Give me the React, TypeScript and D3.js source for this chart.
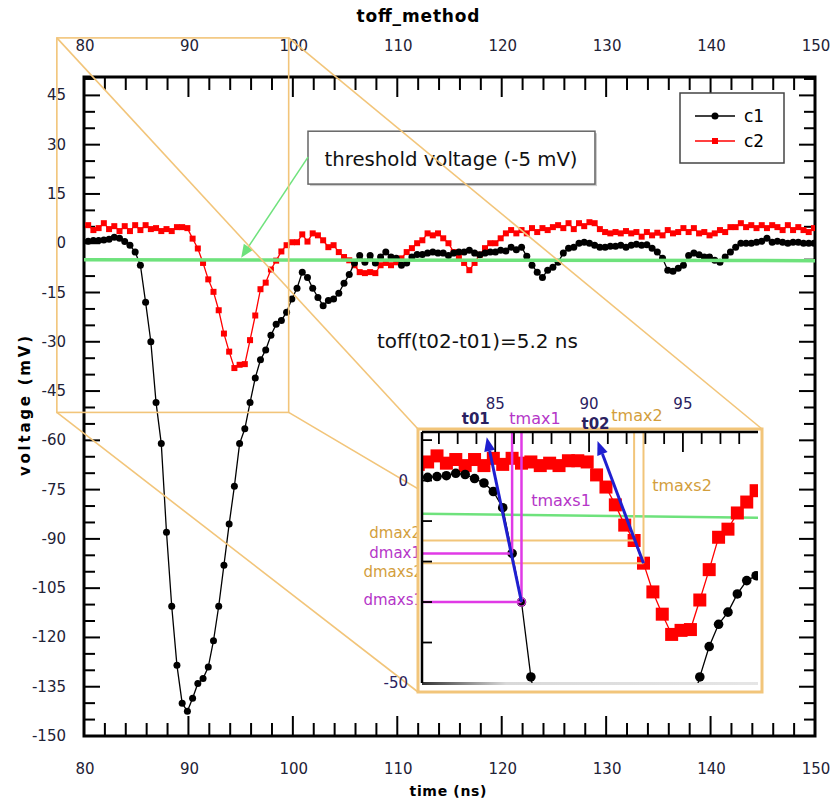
import React, { useEffect, useRef } from "react";
import * as d3 from "d3";

// sampling of both channels (ns)
const startTime = 80.4;
const step = 0.5;

// channel 1 (black), mV
const c1Values = [
  0.6, 0.8, 0.8, 1.0, 1.2, 1.8, 1.5, 0.5, -0.6, -2.7,
  -6.7, -18, -30, -48.5, -61, -88, -110.5, -128.5, -140, -142.5,
  -138.5, -134, -132.5, -129, -121, -110.5, -98, -85.5, -74, -61,
  -56.5, -48.5, -41, -35.5, -32.5, -28, -24.7, -23.5, -21, -17,
  -13.7, -8.8, -10.4, -13.7, -16.5, -19, -17.4, -17, -15.2, -12.2,
  -9.5, -6, -3.7, -5.8, -3.7, -6, -4.2, -2.7, -4.2, -4.6,
  -6.7, -6, -4.2, -3.4, -3.4, -3, -2.7, -3, -3, -3.7,
  -3, -2.7, -2.7, -2.1, -3, -3.5, -3, -2.7, -2.7, -2.1,
  -2.4, -1.2, -2, -1.2, -4, -6.7, -8.8, -10.4, -8.2, -7.3,
  -5.8, -3, -1.5, -1.2, 0, 0.3, 0, -0.6, -1.2, -1.2,
  -0.9, -0.9, -0.6, -1.2, -0.6, -0.3, -0.6, -0.5, -1.5, -2.7,
  -4.6, -8.2, -8.5, -7.6, -6.7, -3.7, -3, -3.5, -4.2, -4.2,
  -5.2, -5.8, -4.2, -2.7, -1.2, 0, 0, 0, 0.3, 0.6,
  1.5, 0.3, 0.6, 0.3, 0, 0.3, 0.3, 0, 0, 0,
];

// channel 2 (red), mV
const c2Values = [
  5.5, 4.0, 4.6, 6.1, 4.3, 5.2, 3.7, 5.2, 3.7, 5.5,
  4.0, 5.5, 4.3, 4.6, 3.7, 4.3, 3.7, 4.9, 4.9, 4.6,
  1.4, -1.6, -6, -11, -14.8, -20.4, -27.5, -33, -38, -37,
  -36.8, -29.5, -22, -14, -12, -8, -5.3, -2.5, -0.6, 0.3,
  0.3, 2.7, 0.5, 3, 2.4, 0.9, -1.2, -0.6, -2.7, -4.2,
  -5.2, -6.7, -8.8, -9.1, -8.8, -9.1, -6.7, -6, -6.7, -5.8,
  -4.6, -2.7, -1.5, 0, 0.9, 3, 2.4, 3, 1.5, 0,
  -2.7, -4.2, -6, -8.2, -6, -3.5, -1.5, 0, 0, 1.5,
  3, 4, 3, 4, 3, 4.6, 3.4, 4.6, 4, 4.9,
  5.5, 4.6, 6.1, 4.3, 6.1, 5.2, 6.4, 6.1, 4.3, 3.4,
  3, 3.4, 3, 3.7, 3, 3.4, 2, 3.4, 2.4, 3.2,
  2.4, 4, 3, 3.4, 4.6, 3.4, 4.6, 3, 3.4, 2.4,
  3, 4, 3.4, 4.9, 4.9, 6.1, 4.9, 5.5, 4.6, 5.5,
  4.6, 5.5, 4.9, 4, 5.5, 4, 4.9, 4, 3.4, 4.6,
];

const timeTicks = [80, 90, 100, 110, 120, 130, 140, 150];
const voltTicks = [45, 30, 15, 0, -15, -30, -45, -60, -75, -90, -105, -120, -135, -150];
const insetTimeTicks = [85, 90, 95];
const insetVoltTicks = [0, -50];
const thresholdMv = -5;

// the zoomed region drawn on the main plot (ns, mV)
const zoomBox = { t0: 77.4, t1: 99.6, v0: -51.5, v1: 62.5 };
// arrow tips of the two extrapolated edges in the inset
const t01Tip = { t: 84.55, v: 10.7 };
const t02Tip = { t: 90.45, v: 9.8 };
const insetThreshold = -8.2;

const FONT = "DejaVu Sans, sans-serif";
const ORANGE_LINE = "#f2c57a";
const ORANGE_TEXT = "#d39e3c";
const MAGENTA = "#e03ae6";
const MAGENTA_TEXT = "#b536c8";
const NAVY = "#2a2160";
const BLUE = "#1f1fd0";
const GREEN = "#6ee27c";

function arrowHead(g: any, x1: number, y1: number, x2: number, y2: number, len: number, wid: number, color: string) {
  const a = Math.atan2(y2 - y1, x2 - x1);
  const bx = x2 - len * Math.cos(a);
  const by = y2 - len * Math.sin(a);
  const px = (-Math.sin(a) * wid) / 2;
  const py = (Math.cos(a) * wid) / 2;
  g.append("polygon")
    .attr("points", `${x2},${y2} ${bx + px},${by + py} ${bx - px},${by - py}`)
    .attr("fill", color);
  return [bx, by];
}

const App = () => {
  const ref = useRef<SVGSVGElement>(null);

  useEffect(() => {
    const svg = d3.select(ref.current);
    svg.selectAll("*").remove();

    const c1 = c1Values.map((v, i) => ({ t: startTime + i * step, v }));
    const c2 = c2Values.map((v, i) => ({ t: startTime + i * step, v }));

    const left = 84, right = 815, top = 77, bottom = 736;
    const x = d3.scaleLinear().domain([80, 150]).range([left, right]);
    const y = d3.scaleLinear().domain([-150, 50.6]).range([bottom, top]);

    svg.append("rect").attr("width", 832).attr("height", 808).attr("fill", "#fff");

    const defs = svg.append("defs");
    defs.append("clipPath").attr("id", "mainclip")
      .append("rect").attr("x", left).attr("y", top).attr("width", right - left).attr("height", bottom - top);

    // title
    svg.append("text").attr("x", 418).attr("y", 22).attr("text-anchor", "middle")
      .attr("font-family", FONT).attr("font-weight", "bold").attr("font-size", 17)
      .attr("textLength", 123).text("toff_method");

    // ticks
    const ax = svg.append("g").attr("stroke", "#000").attr("stroke-width", 2);
    d3.range(80, 150.1, 2).forEach((t) => {
      const major = t % 10 === 0;
      const L = major ? 20 : 13;
      ax.append("line").attr("x1", x(t)).attr("x2", x(t)).attr("y1", top).attr("y2", top + L);
      ax.append("line").attr("x1", x(t)).attr("x2", x(t)).attr("y1", bottom).attr("y2", bottom - L);
    });
    d3.range(-150, 50.1, 5).forEach((v) => {
      const major = v % 15 === 0;
      const L = major ? 16 : 11;
      ax.append("line").attr("x1", left).attr("x2", left + L).attr("y1", y(v)).attr("y2", y(v));
      ax.append("line").attr("x1", right).attr("x2", right - L).attr("y1", y(v)).attr("y2", y(v));
    });
    svg.append("rect").attr("x", left).attr("y", top).attr("width", right - left).attr("height", bottom - top)
      .attr("fill", "none").attr("stroke", "#000").attr("stroke-width", 3);

    const lbl = svg.append("g").attr("font-family", FONT).attr("font-size", 15).attr("fill", "#1e2236");
    timeTicks.forEach((t) => {
      lbl.append("text").attr("x", x(t) + 1).attr("y", 51).attr("text-anchor", "middle").text(t);
      lbl.append("text").attr("x", x(t) + 1).attr("y", 774).attr("text-anchor", "middle").text(t);
    });
    voltTicks.forEach((v) => {
      lbl.append("text").attr("x", 66).attr("y", y(v) + 5).attr("text-anchor", "end").text(v);
    });

    svg.append("text").attr("x", 448).attr("y", 796).attr("text-anchor", "middle")
      .attr("font-family", FONT).attr("font-weight", "bold").attr("font-size", 14)
      .attr("textLength", 77).text("time (ns)");
    svg.append("text").attr("transform", "translate(30,406) rotate(-90)").attr("text-anchor", "middle")
      .attr("font-family", FONT).attr("font-weight", "bold").attr("font-size", 15)
      .attr("textLength", 140).attr("lengthAdjust", "spacing").text("voltage (mV)");

    // data
    const plot = svg.append("g").attr("clip-path", "url(#mainclip)");
    const line = d3.line<{ t: number; v: number }>().x((d) => x(d.t)).y((d) => y(d.v));
    plot.append("path").datum(c2).attr("d", line).attr("fill", "none").attr("stroke", "#f00").attr("stroke-width", 1.3);
    plot.selectAll(".sq").data(c2).join("rect")
      .attr("x", (d) => x(d.t) - 3).attr("y", (d) => y(d.v) - 3)
      .attr("width", 6).attr("height", 6).attr("fill", "#f00");
    plot.append("path").datum(c1).attr("d", line).attr("fill", "none").attr("stroke", "#000").attr("stroke-width", 1.3);
    plot.selectAll(".dot").data(c1).join("circle")
      .attr("cx", (d) => x(d.t)).attr("cy", (d) => y(d.v)).attr("r", 3.5).attr("fill", "#000");

    // threshold
    svg.append("line").attr("x1", x(80)).attr("x2", x(150)).attr("y1", y(thresholdMv)).attr("y2", y(thresholdMv) + 1)
      .attr("stroke", GREEN).attr("stroke-width", 3.5);

    // threshold text box with arrow
    svg.append("rect").attr("x", x(101.45) + 2).attr("y", y(34.1) + 2)
      .attr("width", x(128.93) - x(101.45)).attr("height", y(18) - y(34.1)).attr("fill", "#ccc");
    svg.append("rect").attr("x", x(101.45)).attr("y", y(34.1))
      .attr("width", x(128.93) - x(101.45)).attr("height", y(18) - y(34.1))
      .attr("fill", "#fff").attr("stroke", "#666").attr("stroke-width", 1.5);
    svg.append("text").attr("x", x(115.15)).attr("y", y(23.4)).attr("text-anchor", "middle")
      .attr("font-family", FONT).attr("font-size", 20).attr("fill", "#111")
      .attr("textLength", 253).attr("lengthAdjust", "spacingAndGlyphs").text("threshold voltage (-5 mV)");
    const gArrow = svg.append("g");
    const [gbx, gby] = arrowHead(gArrow, x(101.45), y(26.2), x(95.05), y(-4.4), 13, 11, GREEN);
    gArrow.append("line").attr("x1", x(101.45)).attr("y1", y(26.2)).attr("x2", gbx).attr("y2", gby)
      .attr("stroke", GREEN).attr("stroke-width", 1.5);

    svg.append("text").attr("x", x(108.05)).attr("y", y(-32)).attr("font-family", FONT).attr("font-size", 19)
      .attr("fill", "#111").attr("textLength", 201).attr("lengthAdjust", "spacingAndGlyphs")
      .text("toff(t02-t01)=5.2 ns");

    // legend
    const lg = svg.append("g");
    lg.append("rect").attr("x", 680).attr("y", 93).attr("width", 104).attr("height", 70)
      .attr("fill", "#fff").attr("stroke", "#444").attr("stroke-width", 1.5);
    lg.append("line").attr("x1", 695).attr("x2", 735).attr("y1", 116).attr("y2", 116).attr("stroke", "#000").attr("stroke-width", 1.5);
    lg.append("circle").attr("cx", 715).attr("cy", 116).attr("r", 3.5).attr("fill", "#000");
    lg.append("line").attr("x1", 695).attr("x2", 735).attr("y1", 141).attr("y2", 141).attr("stroke", "#f00").attr("stroke-width", 1.5);
    lg.append("rect").attr("x", 712).attr("y", 138).attr("width", 6).attr("height", 6).attr("fill", "#f00");
    lg.append("text").attr("x", 744).attr("y", 122).attr("font-family", FONT).attr("font-size", 17).text("c1");
    lg.append("text").attr("x", 744).attr("y", 147).attr("font-family", FONT).attr("font-size", 17).text("c2");

    // inset geometry
    const iL = 422, iR = 758, iT = 432, iB = 683;
    const fL = 418, fR = 762, fT = 429, fB = 692;
    const ix = d3.scaleLinear().domain([81.1, 99.0]).range([iL, iR]);
    const iy = d3.scaleLinear().domain([-50, 12]).range([iB, iT]);

    // zoom box and projection lines
    const zb = svg.append("g").attr("stroke", ORANGE_LINE).attr("stroke-width", 1.6).attr("fill", "none");
    const zx0 = x(zoomBox.t0), zx1 = x(zoomBox.t1), zy0 = y(zoomBox.v1), zy1 = y(zoomBox.v0);
    zb.append("rect").attr("x", zx0).attr("y", zy0).attr("width", zx1 - zx0).attr("height", zy1 - zy0);
    [[zx0, zy0, fL, fT], [zx1, zy0, fR, fT], [zx0, zy1, fL, fB], [zx1, zy1, fR, fB]].forEach(([a, b, c, d]) => {
      zb.append("line").attr("x1", a).attr("y1", b).attr("x2", c).attr("y2", d);
    });

    // labels left of the inset
    const p11 = c1[11], p12 = c1[12], q24 = c2[24], q25 = c2[25];
    const dl = svg.append("g").attr("font-family", FONT).attr("font-size", 15).attr("text-anchor", "end");
    dl.append("text").attr("x", 421).attr("y", iy(q24.v) - 2).attr("fill", ORANGE_TEXT).text("dmax2");
    dl.append("text").attr("x", 421).attr("y", iy(p11.v) + 5).attr("fill", MAGENTA_TEXT).text("dmax1");
    dl.append("text").attr("x", 423).attr("y", iy(q25.v) + 14).attr("fill", ORANGE_TEXT).text("dmaxs2");
    dl.append("text").attr("x", 423).attr("y", iy(p12.v) + 3).attr("fill", MAGENTA_TEXT).text("dmaxs1");

    // inset frame
    svg.append("rect").attr("x", fL).attr("y", fT).attr("width", fR - fL).attr("height", fB - fT)
      .attr("fill", "#fff").attr("stroke", ORANGE_LINE).attr("stroke-width", 3);
    defs.append("clipPath").attr("id", "insetclip")
      .append("rect").attr("x", iL).attr("y", iT).attr("width", iR - iL).attr("height", iB - iT);
    const grad = defs.append("linearGradient").attr("id", "shadow").attr("x1", 0).attr("x2", 1);
    grad.append("stop").attr("offset", 0).attr("stop-color", "#000").attr("stop-opacity", 0.8);
    grad.append("stop").attr("offset", 0.25).attr("stop-color", "#000").attr("stop-opacity", 0.15);
    grad.append("stop").attr("offset", 1).attr("stop-color", "#000").attr("stop-opacity", 0.1);
    svg.append("rect").attr("x", iL).attr("y", iB - 1).attr("width", iR - iL).attr("height", 3).attr("fill", "url(#shadow)");

    const ins = svg.append("g").attr("clip-path", "url(#insetclip)");
    const iline = d3.line<{ t: number; v: number }>().x((d) => ix(d.t)).y((d) => iy(d.v));
    ins.append("line").attr("x1", iL).attr("x2", iR).attr("y1", iy(insetThreshold)).attr("y2", iy(insetThreshold) + 4)
      .attr("stroke", GREEN).attr("stroke-width", 2.5);
    ins.append("path").datum(c2).attr("d", iline).attr("fill", "none").attr("stroke", "#f00").attr("stroke-width", 1.3);
    ins.selectAll(".isq").data(c2).join("rect")
      .attr("x", (d) => ix(d.t) - 6.5).attr("y", (d) => iy(d.v) - 6.5)
      .attr("width", 13).attr("height", 13).attr("fill", "#f00");
    ins.append("path").datum(c1).attr("d", iline).attr("fill", "none").attr("stroke", "#000").attr("stroke-width", 1.3);
    ins.selectAll(".idot").data(c1).join("circle")
      .attr("cx", (d) => ix(d.t)).attr("cy", (d) => iy(d.v)).attr("r", 4.8).attr("fill", "#000");

    // tmax / dmax guides
    const guide = (p: { t: number; v: number }, color: string, w: number) => {
      ins.append("line").attr("x1", ix(p.t)).attr("x2", ix(p.t)).attr("y1", iT).attr("y2", iy(p.v))
        .attr("stroke", color).attr("stroke-width", w);
      ins.append("line").attr("x1", iL).attr("x2", ix(p.t)).attr("y1", iy(p.v)).attr("y2", iy(p.v))
        .attr("stroke", color).attr("stroke-width", w);
    };
    guide(q24, ORANGE_LINE, 2);
    guide(q25, ORANGE_LINE, 2);
    guide(p11, MAGENTA, 2.5);
    guide(p12, MAGENTA, 2.5);
    ins.append("circle").attr("cx", ix(p12.t)).attr("cy", iy(p12.v)).attr("r", 4)
      .attr("fill", "none").attr("stroke", MAGENTA).attr("stroke-width", 1.2);

    // extrapolated edges
    const ar = svg.append("g");
    [[p12, t01Tip], [q25, t02Tip]].forEach(([a, b]) => {
      const [bx, by] = arrowHead(ar, ix(a.t), iy(a.v), ix(b.t), iy(b.v), 14, 11, BLUE);
      ar.append("line").attr("x1", ix(a.t)).attr("y1", iy(a.v)).attr("x2", bx).attr("y2", by)
        .attr("stroke", BLUE).attr("stroke-width", 3);
    });

    // inset axes
    const ia = svg.append("g").attr("stroke", "#000").attr("stroke-width", 1.8);
    d3.range(82, 98.5, 1).forEach((t) => {
      const L = t % 5 === 0 ? 20 : 12;
      ia.append("line").attr("x1", ix(t)).attr("x2", ix(t)).attr("y1", iT).attr("y2", iT + L);
    });
    d3.range(-40, 10.1, 10).forEach((v) => {
      ia.append("line").attr("x1", iL).attr("x2", iL + 10).attr("y1", iy(v)).attr("y2", iy(v));
    });
    ia.append("line").attr("x1", iL).attr("x2", iR).attr("y1", iT).attr("y2", iT).attr("stroke-width", 2.5);
    ia.append("line").attr("x1", iL).attr("x2", iL).attr("y1", iT).attr("y2", iB).attr("stroke-width", 2.5);

    const il = svg.append("g").attr("font-family", FONT).attr("font-size", 15).attr("fill", NAVY);
    insetTimeTicks.forEach((t) => {
      il.append("text").attr("x", ix(t)).attr("y", 409).attr("text-anchor", "middle").text(t);
    });
    insetVoltTicks.forEach((v) => {
      il.append("text").attr("x", 408).attr("y", iy(v) + 5).attr("text-anchor", "end").text(v);
    });

    // inset annotation labels
    const an = svg.append("g").attr("font-family", FONT).attr("text-anchor", "middle");
    an.append("text").attr("x", ix(t01Tip.t) - 11).attr("y", 424).attr("font-size", 15).attr("font-weight", "bold")
      .attr("fill", NAVY).text("t01");
    an.append("text").attr("x", 535).attr("y", 424).attr("font-size", 16).attr("fill", MAGENTA_TEXT).text("tmax1");
    an.append("text").attr("x", ix(t02Tip.t) - 2).attr("y", 429).attr("font-size", 15).attr("font-weight", "bold")
      .attr("fill", NAVY).text("t02");
    an.append("text").attr("x", 637).attr("y", 421).attr("font-size", 16).attr("fill", ORANGE_TEXT).text("tmax2");
    an.append("text").attr("x", 561).attr("y", 506).attr("font-size", 16).attr("fill", MAGENTA_TEXT).text("tmaxs1");
    an.append("text").attr("x", 682).attr("y", 491).attr("font-size", 16).attr("fill", ORANGE_TEXT).text("tmaxs2");
  }, []);

  return (
    <svg ref={ref} width={832} height={808} style={{ position: "absolute", left: 0, top: 0 }} />
  );
};

export default App;
